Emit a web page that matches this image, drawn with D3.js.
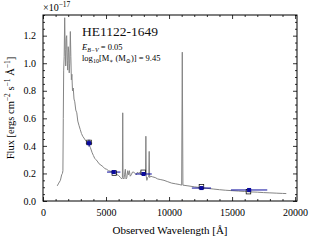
<!DOCTYPE html>
<html>
<head>
<meta charset="utf-8">
<script src="https://cdn.jsdelivr.net/npm/d3@7"></script>
<style>
  body { margin: 0; background: #fff; }
  svg { display: block; font-family: 'Liberation Serif', 'DejaVu Serif', serif; }
</style>
</head>
<body>
<svg id="chart" width="316" height="241"></svg>
<script>
// spectrum (wavelength in A, flux in 1e-17)
const specWave = [1130, 1250, 1380, 1480, 1540, 1580, 1610, 1640, 1680, 1720, 1760, 1800, 1840, 1880, 1920,
  1960, 2000, 2040, 2080, 2120, 2170, 2210, 2250, 2290, 2340, 2400, 2460, 2520, 2600, 2680, 2760, 2850,
  2950, 3050, 3150, 3300, 3450, 3600, 3750, 3900, 4000, 4100, 4200, 4300, 4450, 4600, 4750, 4900, 5050,
  5200, 5400, 5600, 5800, 6000, 6150, 6250, 6300, 6325, 6350, 6420, 6470, 6530, 6590, 6650, 6720, 6790,
  6850, 6920, 7000, 7100, 7200, 7300, 7400, 7500, 7600, 7700, 7800, 7900, 8000, 8080, 8130, 8160, 8190,
  8240, 8300, 8390, 8425, 8460, 8550, 8700, 8900, 9100, 9350, 9600, 9900, 10200, 10500, 10800, 11000,
  11050, 11100, 11500, 12000, 12500, 13000, 13500, 14000, 14500, 15000, 15500, 16000, 16500, 17000,
  17500, 18000, 18500, 19000, 19300]
const specFlux = [0.11, 0.13, 0.15, 0.19, 0.20, 0.22, 0.60, 0.95, 1.05, 1.33, 1.10, 0.98, 1.18, 1.20, 1.02,
  0.95, 1.12, 1.08, 0.93, 1.00, 1.23, 1.05, 0.88, 0.92, 0.80, 0.82, 0.74, 0.72, 0.66, 0.64, 0.58, 0.55,
  0.52, 0.49, 0.47, 0.45, 0.43, 0.42, 0.39, 0.35, 0.33, 0.31, 0.30, 0.29, 0.27, 0.26, 0.25, 0.235, 0.23,
  0.22, 0.215, 0.205, 0.195, 0.185, 0.17, 0.16, 0.17, 0.64, 0.17, 0.16, 0.19, 0.23, 0.16, 0.17, 0.22, 0.19,
  0.22, 0.18, 0.19, 0.21, 0.21, 0.20, 0.19, 0.21, 0.20, 0.21, 0.21, 0.20, 0.20, 0.19, 0.20, 0.47, 0.18,
  0.15, 0.17, 0.18, 0.36, 0.17, 0.18, 0.175, 0.17, 0.16, 0.155, 0.15, 0.14, 0.13, 0.125, 0.12, 0.115,
  1.08, 0.115, 0.11, 0.103, 0.097, 0.092, 0.087, 0.082, 0.078, 0.075, 0.072, 0.069, 0.066, 0.064,
  0.061, 0.059, 0.057, 0.055, 0.054]

// observed photometry (blue) with error bars
const photWave = [3650, 5610, 7980, 12570, 16350]
const photFlux = [0.42, 0.21, 0.196, 0.094, 0.08]
const photXerr = [250, 530, 650, 760, 1440]
const photYerr = [0.025, 0.008, 0.008, 0.006, 0.006]

// model photometry (open black squares)
const modelWave = [3650, 5660, 7950, 12570, 16300]
const modelFlux = [0.425, 0.203, 0.208, 0.104, 0.068]

const xTicks = [0, 5000, 10000, 15000, 20000]
const yTicks = [0.0, 0.2, 0.4, 0.6, 0.8, 1.0, 1.2]

const svg = d3.select('#chart')
const margin = {top: 15, right: 19, bottom: 40, left: 43}
const width = 316 - margin.left - margin.right
const height = 241 - margin.top - margin.bottom
const g = svg.append('g').attr('transform', 'translate(' + margin.left + ',' + margin.top + ')')

const x = d3.scaleLinear().domain([0, 20150]).range([0, width])
const y = d3.scaleLinear().domain([0, 1.35]).range([height, 0])

const blue = '#0a0a9e'

// spectrum
const spec = specWave.map((w, i) => [w, specFlux[i]])
g.append('path')
  .datum(spec)
  .attr('fill', 'none')
  .attr('stroke', '#858585')
  .attr('stroke-width', 1)
  .attr('stroke-linejoin', 'round')
  .attr('d', d3.line().x(d => x(d[0])).y(d => y(d[1])))

// error bars
const phot = photWave.map((w, i) => ({w: w, f: photFlux[i], xe: photXerr[i], ye: photYerr[i]}))
const eb = g.append('g').attr('stroke', blue).attr('stroke-width', 1)
eb.selectAll('line.xe').data(phot).enter().append('line')
  .attr('x1', d => x(d.w - d.xe)).attr('x2', d => x(d.w + d.xe))
  .attr('y1', d => y(d.f)).attr('y2', d => y(d.f))
eb.selectAll('line.ye').data(phot).enter().append('line')
  .attr('x1', d => x(d.w)).attr('x2', d => x(d.w))
  .attr('y1', d => y(d.f - d.ye)).attr('y2', d => y(d.f + d.ye))

// model squares
g.append('g').selectAll('rect').data(modelWave).enter().append('rect')
  .attr('x', (d, i) => x(d) - 2.3).attr('y', (d, i) => y(modelFlux[i]) - 2.3)
  .attr('width', 4.6).attr('height', 4.6)
  .attr('fill', 'none').attr('stroke', '#000').attr('stroke-width', 0.7)

// blue markers
g.append('g').selectAll('rect').data(phot).enter().append('rect')
  .attr('x', d => x(d.w) - 2).attr('y', d => y(d.f) - 2)
  .attr('width', 4).attr('height', 4)
  .attr('fill', blue)

// axes: ticks inward on all sides
function styleAxis (sel) {
  sel.select('.domain').remove()
  sel.selectAll('line').attr('stroke', '#000').attr('stroke-width', 0.8)
  sel.selectAll('text').attr('font-size', 10).attr('fill', '#000')
    .attr('font-family', "'Liberation Serif', serif")
}
const xMinor = d3.range(0, 20001, 1000).filter(v => v % 5000 !== 0)
const yMinor = d3.range(0, 28).map(i => i * 0.05).filter(v => Math.abs(v * 5 - Math.round(v * 5)) > 1e-6)

g.append('g').attr('transform', 'translate(0,' + height + ')')
  .call(d3.axisBottom(x).tickValues(xTicks).tickSize(-4).tickPadding(8).tickFormat(d3.format('d')))
  .call(styleAxis)
g.append('g').attr('transform', 'translate(0,' + height + ')')
  .call(d3.axisBottom(x).tickValues(xMinor).tickSize(-2).tickFormat(''))
  .call(styleAxis)
g.append('g')
  .call(d3.axisTop(x).tickValues(xTicks).tickSize(-4).tickFormat(''))
  .call(styleAxis)
g.append('g')
  .call(d3.axisTop(x).tickValues(xMinor).tickSize(-2).tickFormat(''))
  .call(styleAxis)
g.append('g')
  .call(d3.axisLeft(y).tickValues(yTicks).tickSize(-4).tickPadding(7).tickFormat(d3.format('.1f')))
  .call(styleAxis)
g.append('g')
  .call(d3.axisLeft(y).tickValues(yMinor).tickSize(-2).tickFormat(''))
  .call(styleAxis)
g.append('g').attr('transform', 'translate(' + width + ',0)')
  .call(d3.axisRight(y).tickValues(yTicks).tickSize(-4).tickFormat(''))
  .call(styleAxis)
g.append('g').attr('transform', 'translate(' + width + ',0)')
  .call(d3.axisRight(y).tickValues(yMinor).tickSize(-2).tickFormat(''))
  .call(styleAxis)

// frame
g.append('rect').attr('width', width).attr('height', height)
  .attr('fill', 'none').attr('stroke', '#000').attr('stroke-width', 1)

// offset label
const off = svg.append('text').attr('x', 43).attr('y', 11).attr('font-size', 10)
off.append('tspan').text('×10')
off.append('tspan').attr('dy', -4).attr('font-size', 7.5).text('−17')

// title and annotation
svg.append('text').attr('x', 82).attr('y', 36).attr('font-size', 13.5).attr('fill', '#111').text('HE1122-1649')
const a1 = svg.append('text').attr('x', 82).attr('y', 50).attr('font-size', 8.5)
a1.append('tspan').attr('font-style', 'italic').text('E')
a1.append('tspan').attr('dy', 2).attr('font-size', 6).attr('font-style', 'italic').text('B−V')
a1.append('tspan').attr('dy', -2).text(' = 0.05')
const a2 = svg.append('text').attr('x', 82).attr('y', 61).attr('font-size', 8.5)
a2.append('tspan').text('log')
a2.append('tspan').attr('dy', 2).attr('font-size', 6).text('10')
a2.append('tspan').attr('dy', -2).text('[M')
a2.append('tspan').attr('dy', 1.5).attr('font-size', 6).text('∗')
a2.append('tspan').attr('dy', -1.5).text(' (M')
a2.append('tspan').attr('dy', 1.5).attr('font-size', 6).text('⊙')
a2.append('tspan').attr('dy', -1.5).text(')] = 9.45')

// axis labels
svg.append('text').attr('x', margin.left + width / 2).attr('y', 234)
  .attr('text-anchor', 'middle').attr('font-size', 11).text('Observed Wavelength [Å]')

const yl = svg.append('text')
  .attr('transform', 'translate(14,' + (margin.top + height / 2) + ') rotate(-90)')
  .attr('text-anchor', 'middle').attr('font-size', 10.5)
yl.append('tspan').text('Flux [ergs cm')
yl.append('tspan').attr('dy', -4).attr('font-size', 7.5).text('−2')
yl.append('tspan').attr('dy', 4).text(' s')
yl.append('tspan').attr('dy', -4).attr('font-size', 7.5).text('−1')
yl.append('tspan').attr('dy', 4).text(' Å')
yl.append('tspan').attr('dy', -4).attr('font-size', 7.5).text('−1')
yl.append('tspan').attr('dy', 4).text(']')
</script>
</body>
</html>
